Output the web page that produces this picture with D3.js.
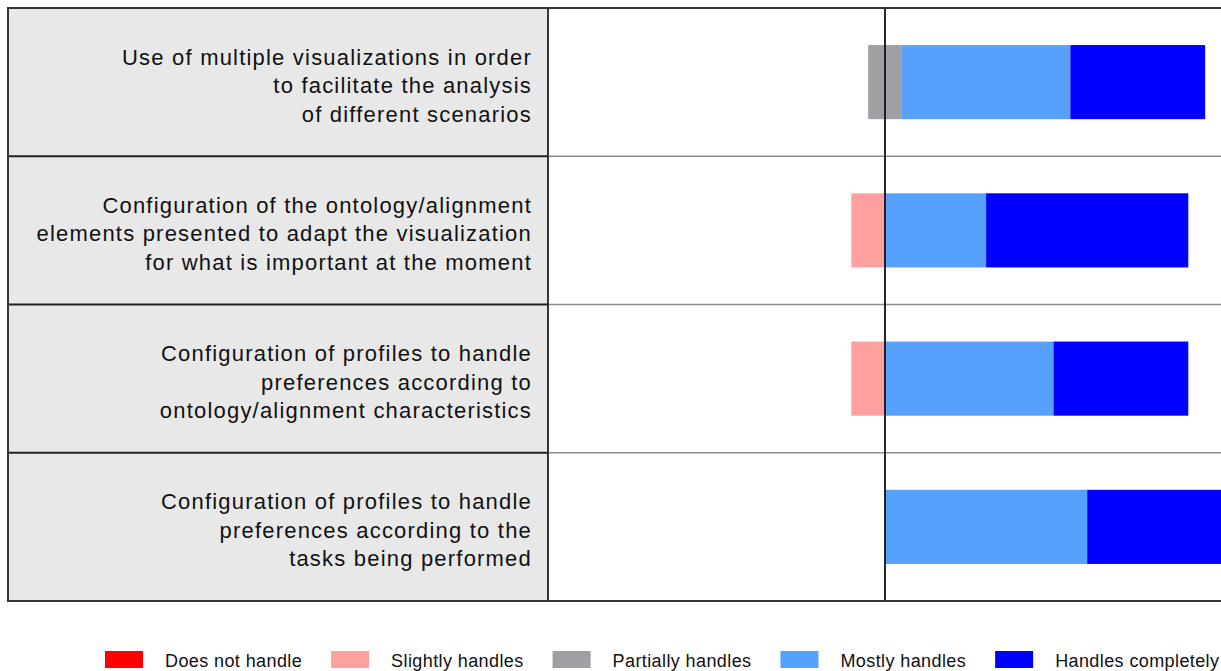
<!DOCTYPE html>
<html>
<head>
<meta charset="utf-8">
<script src="https://cdn.jsdelivr.net/npm/d3@7"></script>
<style>
  html, body { margin: 0; padding: 0; background: #fff; }
  svg { display: block; font-family: "Liberation Sans", Arial, Helvetica, sans-serif; }
</style>
</head>
<body>
<svg id="chart" width="1221" height="671"></svg>
<script>
// Survey items (each entry holds the wrapped label lines)
const categories = [
  ["Use of multiple visualizations in order", "to facilitate the analysis", "of different scenarios"],
  ["Configuration of the ontology/alignment", "elements presented to adapt the visualization", "for what is important at the moment"],
  ["Configuration of profiles to handle", "preferences according to", "ontology/alignment characteristics"],
  ["Configuration of profiles to handle", "preferences according to the", "tasks being performed"]
];

// Response levels and their share of answers (%) per item
const levels = ["Does not handle", "Slightly handles", "Partially handles", "Mostly handles", "Handles completely"];
const doesNotHandle     = [0, 0, 0, 0];
const slightlyHandles   = [0, 10, 10, 0];
const partiallyHandles  = [10, 0, 0, 0];
const mostlyHandles     = [50, 30, 50, 60];
const handlesCompletely = [40, 60, 40, 40];
const levelColors = ["#ff0000", "#ffa0a0", "#a0a0a4", "#55a1fd", "#0000ff"];

const series = [doesNotHandle, slightlyHandles, partiallyHandles, mostlyHandles, handlesCompletely];

(function draw() {
  const svg = d3.select("#chart");

  const frameTop = 8, frameBottom = 601;
  const labelLeft = 8, labelRight = 548;
  const plotLeft = 548, plotRight = 1222;

  const y = d3.scaleBand().domain(d3.range(categories.length)).range([frameTop, frameBottom]);
  const x = d3.scaleLinear().domain([-100, 100]).range([plotLeft, plotRight]);
  const color = d3.scaleOrdinal().domain(levels).range(levelColors);

  // Diverging segments: negatives to the left of zero, neutral split across it
  const segments = [];
  categories.forEach((c, i) => {
    const v = series.map(s => s[i]);
    let left = -(v[2] / 2);
    [1, 0].forEach(k => {
      segments.push({ row: i, level: levels[k], x0: left - v[k], x1: left });
      left -= v[k];
    });
    segments.push({ row: i, level: levels[2], x0: -(v[2] / 2), x1: v[2] / 2 });
    let right = v[2] / 2;
    [3, 4].forEach(k => {
      segments.push({ row: i, level: levels[k], x0: right, x1: right + v[k] });
      right += v[k];
    });
  });

  // Label panel background
  svg.append("rect")
    .attr("x", labelLeft).attr("y", frameTop)
    .attr("width", labelRight - labelLeft).attr("height", frameBottom - frameTop)
    .attr("fill", "#e8e8e8");

  // Row separators in the plot panel
  svg.append("g").selectAll("line")
    .data(d3.range(1, categories.length))
    .join("line")
    .attr("x1", plotLeft).attr("x2", plotRight + 10)
    .attr("y1", d => y(d)).attr("y2", d => y(d))
    .attr("stroke", "#8c8c8c").attr("stroke-width", 1.6);

  // Row separators in the label panel
  svg.append("g").selectAll("line")
    .data(d3.range(1, categories.length))
    .join("line")
    .attr("x1", labelLeft).attr("x2", labelRight)
    .attr("y1", d => y(d)).attr("y2", d => y(d))
    .attr("stroke", "#222").attr("stroke-width", 1.8);

  // Bars
  const barH = y.bandwidth() * 0.5;
  svg.append("g").selectAll("rect")
    .data(segments.filter(d => d.x1 > d.x0))
    .join("rect")
    .attr("x", d => x(d.x0))
    .attr("width", d => x(d.x1) - x(d.x0))
    .attr("y", d => y(d.row) + (y.bandwidth() - barH) / 2)
    .attr("height", barH)
    .attr("fill", d => color(d.level));

  // Zero line
  svg.append("line")
    .attr("x1", x(0)).attr("x2", x(0))
    .attr("y1", frameTop).attr("y2", frameBottom)
    .attr("stroke", "#111").attr("stroke-width", 1.8);

  // Panel divider and outer frame
  svg.append("line")
    .attr("x1", labelRight).attr("x2", labelRight)
    .attr("y1", frameTop).attr("y2", frameBottom)
    .attr("stroke", "#222").attr("stroke-width", 1.8);
  svg.append("rect")
    .attr("x", labelLeft).attr("y", frameTop)
    .attr("width", plotRight + 20 - labelLeft).attr("height", frameBottom - frameTop)
    .attr("fill", "none").attr("stroke", "#333").attr("stroke-width", 2);

  // Item labels, right aligned
  const lineGap = 28.5;
  const labels = svg.append("g")
    .attr("font-size", 22).attr("letter-spacing", "1.2px")
    .attr("fill", "#111").attr("text-anchor", "end");
  categories.forEach((lines, i) => {
    const cy = y(i) + y.bandwidth() / 2;
    const t = labels.append("text").attr("x", 532);
    lines.forEach((ln, j) => {
      t.append("tspan")
        .attr("x", 532)
        .attr("y", cy + (j - (lines.length - 1) / 2) * lineGap + 11)
        .text(ln);
    });
  });

  // Legend
  const legend = svg.append("g")
    .attr("font-size", 18).attr("letter-spacing", "0.4px").attr("fill", "#111");
  let lx = 105;
  levels.forEach(l => {
    const g = legend.append("g").attr("transform", `translate(${lx},0)`);
    g.append("rect").attr("x", 0).attr("y", 651).attr("width", 38).attr("height", 17).attr("fill", color(l));
    const t = g.append("text").attr("x", 60).attr("y", 666.5).text(l);
    lx += 60 + t.node().getComputedTextLength() + 29;
  });
})();
</script>
</body>
</html>
